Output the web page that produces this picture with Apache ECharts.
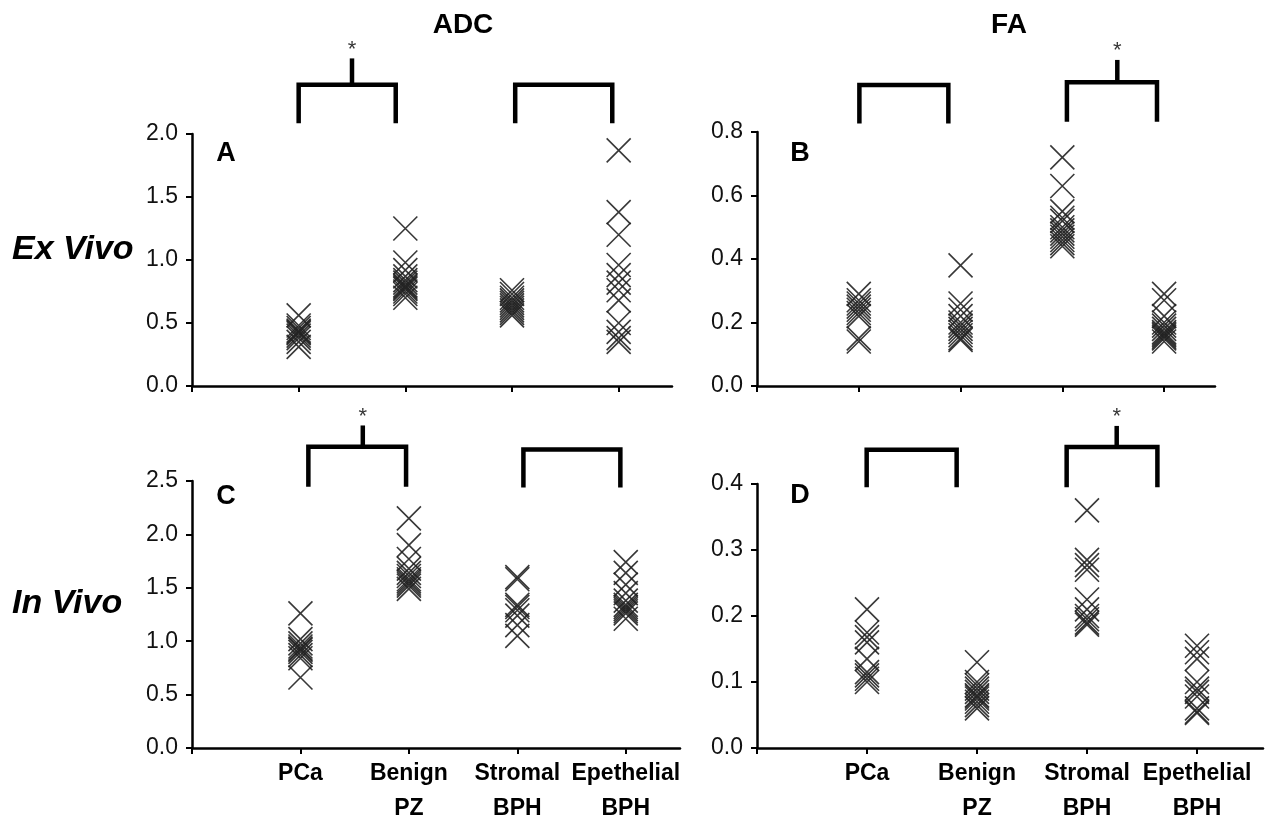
<!DOCTYPE html>
<html>
<head>
<meta charset="utf-8">
<script src="https://cdn.jsdelivr.net/npm/echarts@6/dist/echarts.min.js"></script>
<style>
html,body{margin:0;padding:0;background:#fff;}
#chart{width:1271px;height:826px;}
</style>
</head>
<body>
<div id="chart"></div>
<script>
// ---------- data ----------
const categories = ['PCa', 'Benign\nPZ', 'Stromal\nBPH', 'Epethelial\nBPH'];
const yTicksADCex = [0, 0.5, 1.0, 1.5, 2.0];
const yTicksFAex = [0, 0.2, 0.4, 0.6, 0.8];
const yTicksADCin = [0, 0.5, 1.0, 1.5, 2.0, 2.5];
const yTicksFAin = [0, 0.1, 0.2, 0.3, 0.4];

// ADC, ex vivo (panel A)
const adcExVivo = [
  [0.56, 0.48, 0.46, 0.44, 0.43, 0.42, 0.40, 0.38, 0.35, 0.31],
  [1.25, 0.98, 0.92, 0.87, 0.84, 0.82, 0.80, 0.79, 0.78, 0.77, 0.75, 0.73, 0.70],
  [0.76, 0.73, 0.70, 0.68, 0.66, 0.64, 0.62, 0.60, 0.58, 0.56],
  [1.87, 1.38, 1.20, 0.96, 0.88, 0.82, 0.76, 0.68, 0.50, 0.43, 0.38, 0.35]
];
// FA, ex vivo (panel B)
const faExVivo = [
  [0.29, 0.27, 0.26, 0.25, 0.24, 0.23, 0.22, 0.15, 0.14],
  [0.38, 0.26, 0.24, 0.22, 0.20, 0.19, 0.18, 0.17, 0.16, 0.15, 0.145],
  [0.72, 0.63, 0.55, 0.53, 0.52, 0.50, 0.49, 0.48, 0.47, 0.46, 0.45, 0.44],
  [0.29, 0.27, 0.22, 0.20, 0.19, 0.18, 0.17, 0.165, 0.16, 0.155, 0.15, 0.14]
];
// ADC, in vivo (panel C)
const adcInVivo = [
  [1.26, 1.02, 0.98, 0.95, 0.93, 0.92, 0.90, 0.87, 0.84, 0.66],
  [2.15, 1.90, 1.77, 1.68, 1.64, 1.61, 1.58, 1.56, 1.54, 1.52, 1.49],
  [1.60, 1.58, 1.34, 1.32, 1.29, 1.24, 1.15, 1.05],
  [1.74, 1.64, 1.53, 1.45, 1.38, 1.34, 1.32, 1.30, 1.28, 1.26, 1.21]
];
// FA, in vivo (panel D)
const faInVivo = [
  [0.21, 0.175, 0.168, 0.16, 0.135, 0.115, 0.11, 0.105, 0.10],
  [0.13, 0.10, 0.095, 0.09, 0.085, 0.08, 0.078, 0.075, 0.07, 0.065, 0.06],
  [0.36, 0.285, 0.277, 0.27, 0.225, 0.21, 0.20, 0.195, 0.19, 0.187],
  [0.155, 0.145, 0.135, 0.10, 0.09, 0.085, 0.078, 0.06, 0.055, 0.053]
];

// significance brackets, in data units of each panel: [xLeft, xRight, yBottom, yTop, significant, xStem, yStemTop]
const bracketsA = [[1.0, 1.91, 2.085, 2.39, true, 1.50, 2.60], [3.03, 3.94, 2.085, 2.39, false]];
const bracketsB = [[1.006, 1.88, 0.827, 0.948, false], [3.045, 3.93, 0.832, 0.957, true, 3.54, 1.027]];
const bracketsC = [[1.073, 1.974, 2.447, 2.82, true, 1.575, 3.02], [3.056, 3.95, 2.44, 2.795, false]];
const bracketsD = [[0.997, 1.815, 0.395, 0.452, false], [2.815, 3.64, 0.395, 0.456, true, 3.27, 0.488]];

// ---------- layout ----------
const panels = [
  {data: adcExVivo, ticks: yTicksADCex, brackets: bracketsA, grid: {left: 192, top: 134, width: 480, height: 252}, xMax: 4.5, labels: false},
  {data: faExVivo, ticks: yTicksFAex, brackets: bracketsB, grid: {left: 757, top: 132, width: 458, height: 254}, xMax: 4.5, labels: false},
  {data: adcInVivo, ticks: yTicksADCin, brackets: bracketsC, grid: {left: 192, top: 481, width: 488, height: 269}, xMax: 4.5, labels: true},
  {data: faInVivo, ticks: yTicksFAin, brackets: bracketsD, grid: {left: 757, top: 484, width: 506, height: 268}, xMax: 4.6, labels: true}
];

const FONT = '"Liberation Sans", Arial, sans-serif';
const crossPath = 'path://M0,0L24,24M24,0L0,24';

const grids = [], xAxes = [], yAxes = [], series = [];
panels.forEach((p, i) => {
  grids.push(Object.assign({containLabel: false}, p.grid));
  xAxes.push({
    type: 'value', gridIndex: i, min: 0, max: p.xMax,
    splitLine: {show: false},
    axisLine: {show: true, onZero: false, lineStyle: {color: '#000', width: 2.5}},
    axisTick: {show: true, length: 6, lineStyle: {color: '#000', width: 2}, customValues: [0, 1, 2, 3, 4]},
    axisLabel: {
      show: p.labels, customValues: [1, 2, 3, 4],
      formatter: v => categories[Math.round(v) - 1] || '',
      fontFamily: FONT, fontWeight: 'bold', fontSize: 23, lineHeight: 35, color: '#000', margin: 8
    }
  });
  const interval = p.ticks[1] - p.ticks[0];
  yAxes.push({
    type: 'value', gridIndex: i, min: p.ticks[0], max: p.ticks[p.ticks.length - 1], interval: interval,
    splitLine: {show: false},
    axisLine: {show: true, lineStyle: {color: '#000', width: 2.5}},
    axisTick: {show: true, length: 6, lineStyle: {color: '#000', width: 2}},
    axisLabel: {formatter: v => v.toFixed(1), fontFamily: FONT, fontSize: 23, color: '#111', margin: 14}
  });
  const pts = [];
  p.data.forEach((vals, ci) => vals.forEach(v => pts.push([ci + 1, v])));
  series.push({
    type: 'scatter', xAxisIndex: i, yAxisIndex: i, data: pts,
    symbol: crossPath, symbolSize: 24, symbolKeepAspect: true,
    itemStyle: {color: 'rgba(0,0,0,0)', borderColor: '#222', borderWidth: 1.6, opacity: 0.9},
    emphasis: {disabled: true}, silent: true, z: 3
  });
  p.brackets.forEach(b => {
    const lineStyle = {color: '#000', width: 4.5, cap: 'butt', join: 'miter'};
    series.push({
      type: 'line', xAxisIndex: i, yAxisIndex: i, clip: false, symbol: 'none', silent: true,
      data: [[b[0], b[2]], [b[0], b[3]], [b[1], b[3]], [b[1], b[2]]], lineStyle: lineStyle, z: 4
    });
    if (b[4]) {
      series.push({
        type: 'line', xAxisIndex: i, yAxisIndex: i, clip: false, symbol: 'none', silent: true,
        data: [[b[5], b[3]], [b[5], b[6]]], lineStyle: lineStyle, z: 4
      });
      series.push({
        type: 'scatter', xAxisIndex: i, yAxisIndex: i, clip: false, silent: true,
        data: [[b[5], b[6]]], symbolSize: 1, itemStyle: {color: 'rgba(0,0,0,0)'}, z: 5,
        label: {show: true, position: 'top', distance: -3, fontFamily: FONT, fontSize: 22, color: '#000', formatter: '*'}
      });
    }
  });
});

const textStyle = (txt, x, y, size, extra) => ({
  type: 'text', x: x, y: y, silent: true,
  style: Object.assign({text: txt, font: 'bold ' + size + 'px ' + FONT, fill: '#000', textAlign: 'center', textVerticalAlign: 'middle'}, extra || {})
});

const chart = echarts.init(document.getElementById('chart'), null, {renderer: 'canvas'});
chart.setOption({
  backgroundColor: '#fff',
  animation: false,
  grid: grids, xAxis: xAxes, yAxis: yAxes, series: series,
  graphic: [
    textStyle('ADC', 463, 25, 28),
    textStyle('FA', 1009, 25, 28),
    textStyle('A', 226, 154, 27),
    textStyle('B', 800, 154, 27),
    textStyle('C', 226, 497, 27),
    textStyle('D', 800, 496, 27),
    textStyle('Ex Vivo', 12, 250, 34, {font: 'italic bold 34px ' + FONT, textAlign: 'left'}),
    textStyle('In Vivo', 12, 604, 34, {font: 'italic bold 34px ' + FONT, textAlign: 'left'})
  ]
});
</script>
</body>
</html>
